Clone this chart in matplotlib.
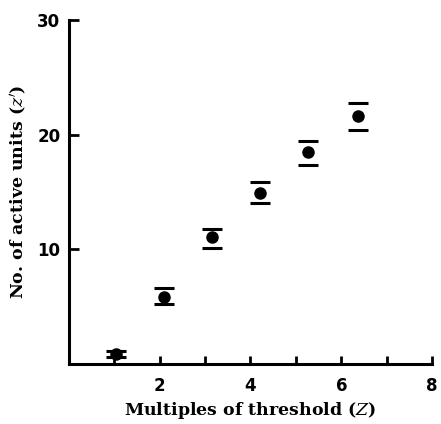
import numpy as np
from matplotlib import pyplot as plt

# values
threshold = [1.03, 2.1, 3.15, 4.21, 5.26, 6.36]
active_units = [0.9, 5.85, 11.1, 14.92, 18.5, 21.64]
err_low = [0.3, 0.6, 0.98, 0.87, 1.13, 1.22]
err_high = [0.25, 0.78, 0.68, 0.96, 0.96, 1.13]

x_ticks = [1, 2, 3, 4, 5, 6, 7, 8]
x_labels = ['', '2', '', '4', '', '6', '', '8']
y_ticks = [10, 20, 30]

plt.rcParams['mathtext.fontset'] = 'dejavuserif'

fig = plt.figure(figsize=(4.41, 4.24), dpi=100)
ax = fig.add_axes([0.156, 0.1415, 0.824, 0.8115])

ax.errorbar(threshold, active_units, yerr=[err_low, err_high],
            fmt='o', color='k', markersize=8, elinewidth=0,
            capsize=7.5, capthick=2.2)

ax.set_xlim(0, 8)
ax.set_ylim(0, 30)
ax.set_xticks(x_ticks)
ax.set_xticklabels(x_labels)
ax.set_yticks(y_ticks)

for side in ['top', 'right']:
    ax.spines[side].set_visible(False)
for side in ['left', 'bottom']:
    ax.spines[side].set_linewidth(2.2)

ax.tick_params(axis='both', direction='in', width=2, labelsize=12)
ax.tick_params(axis='y', length=7, pad=6)
ax.tick_params(axis='x', length=6, pad=9)
for lab in ax.get_xticklabels() + ax.get_yticklabels():
    lab.set_fontweight('bold')

ax.set_xlabel(r'Multiples of threshold ($Z$)', family='DejaVu Serif',
              fontweight='bold', fontsize=12.5, labelpad=4)
ax.set_ylabel(r"No. of active units ($z'$)", family='DejaVu Serif',
              fontweight='bold', fontsize=12.5, labelpad=6)

fig.savefig('out.png', dpi=100)
